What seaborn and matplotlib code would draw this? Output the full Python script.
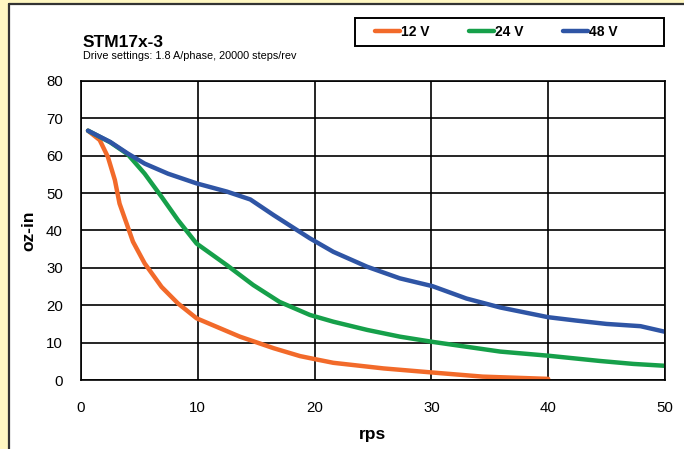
import pandas as pd
import matplotlib.pyplot as plt
import seaborn as sns
from matplotlib.patches import Rectangle
from matplotlib.lines import Line2D

# torque curves (rps, oz-in)
rps_12v = [0.6, 1.6, 2.3, 2.9, 3.3, 3.9, 4.45, 5.45, 6.9, 8.3, 9.9, 13.6, 16.5, 18.75, 20.0, 21.6,
           25.9, 30.1, 34.4, 40.0]
torque_12v = [66.7, 64.2, 59.7, 53.5, 47.2, 41.9, 37.0, 31.2, 24.9, 20.5, 16.5, 11.6, 8.5, 6.4, 5.6, 4.6,
              3.1, 2.0, 0.9, 0.3]

rps_24v = [0.6, 2.5, 4.0, 5.45, 6.9, 8.3, 9.9, 12.5, 14.75, 17.0, 19.6, 21.6, 24.5, 27.3, 30.1,
           33.0, 35.9, 40.0, 44.4, 47.3, 50.0]
torque_24v = [66.7, 63.6, 60.4, 55.2, 49.0, 42.8, 36.5, 30.7, 25.4, 20.9, 17.4, 15.6, 13.4, 11.6, 10.2,
              8.9, 7.6, 6.5, 5.1, 4.3, 3.8]

rps_48v = [0.6, 2.5, 4.0, 5.45, 7.45, 9.9, 12.5, 14.5, 16.5, 19.6, 21.6, 24.5, 27.3, 30.1, 33.0, 35.9,
           40.0, 42.4, 45.0, 47.9, 50.0]
torque_48v = [66.7, 63.7, 60.6, 57.9, 55.2, 52.6, 50.4, 48.3, 44.1, 37.9, 34.3, 30.3, 27.2, 25.1, 21.8, 19.4,
              16.8, 15.9, 15.0, 14.4, 12.9]

voltages = ["12 V", "24 V", "48 V"]
colors = {"12 V": "#F26A2A", "24 V": "#16A04A", "48 V": "#2F55A5"}

frames = []
for v, xs, ys in zip(voltages, [rps_12v, rps_24v, rps_48v], [torque_12v, torque_24v, torque_48v]):
    frames.append(pd.DataFrame({"rps": xs, "oz-in": ys, "volt": v}))
df = pd.concat(frames, ignore_index=True)

sns.set_style("white")
plt.rcParams['font.family'] = ['Liberation Sans', 'DejaVu Sans']
plt.rcParams['text.color'] = 'black'
plt.rcParams['xtick.color'] = 'black'
plt.rcParams['ytick.color'] = 'black'
plt.rcParams['axes.labelcolor'] = 'black'

fig = plt.figure(figsize=(6.84, 4.49), dpi=100)
fig.patch.set_facecolor("#FFF7C2")
W, H = 684.0, 449.0
# white panel with dark border on left and top
fig.patches.append(Rectangle((9 / W, 0), 1, 1 - 4 / H, transform=fig.transFigure,
                             facecolor="white", edgecolor="none", zorder=-5))
fig.lines.append(Line2D([8.5 / W, 8.5 / W], [0, 1 - 3.5 / H], transform=fig.transFigure,
                        color="#333333", lw=1.6, zorder=-4))
fig.lines.append(Line2D([8.5 / W, 1], [1 - 3.5 / H, 1 - 3.5 / H], transform=fig.transFigure,
                        color="#333333", lw=1.6, zorder=-4))
# legend box
fig.patches.append(Rectangle((355 / W, 1 - 46 / H), (664 - 355) / W, 28 / H, transform=fig.transFigure,
                             facecolor="white", edgecolor="black", lw=1.4, zorder=-3))

ax = fig.add_axes([81 / W, 1 - 380 / H, (665 - 81) / W, (380 - 81) / H])
ax.set_zorder(2)
sns.lineplot(data=df, x="rps", y="oz-in", hue="volt", palette=colors, sort=False,
             lw=3.2, ax=ax, legend=False)

ax.set_xlim(0, 50)
ax.set_ylim(0, 80)
ax.set_xticks(range(0, 51, 10))
ax.set_yticks(range(0, 81, 10))
ax.grid(True, color="black", lw=1.2)
ax.set_axisbelow(True)
for s in ax.spines.values():
    s.set_color("black")
    s.set_linewidth(1.2)
ax.tick_params(axis="y", length=5, width=1, color="black", pad=8, labelsize=10.8)
ax.tick_params(axis="x", length=0, pad=15, labelsize=10.8)
ax.set_xlabel("rps", fontsize=12.5, fontweight="bold", labelpad=9)
ax.set_ylabel("oz-in", fontsize=12.5, fontweight="bold", labelpad=7)

fig.text(83 / W, 1 - 47 / H, "STM17x-3", fontsize=12.5, fontweight="bold", va="baseline")
fig.text(83 / W, 1 - 59 / H, "Drive settings: 1.8 A/phase, 20000 steps/rev", fontsize=7.8, va="baseline")

handles = [Line2D([], [], color=colors[v], lw=3.2) for v in voltages]
leg = fig.legend(handles, voltages, loc="center left", bbox_to_anchor=(375 / W, 1 - 32 / H),
                 ncol=3, frameon=False, handlelength=1.8, handletextpad=0.1,
                 columnspacing=2.8, borderpad=0, borderaxespad=0,
                 prop={"weight": "bold", "size": 10})

fig.savefig("out.png", dpi=100)
